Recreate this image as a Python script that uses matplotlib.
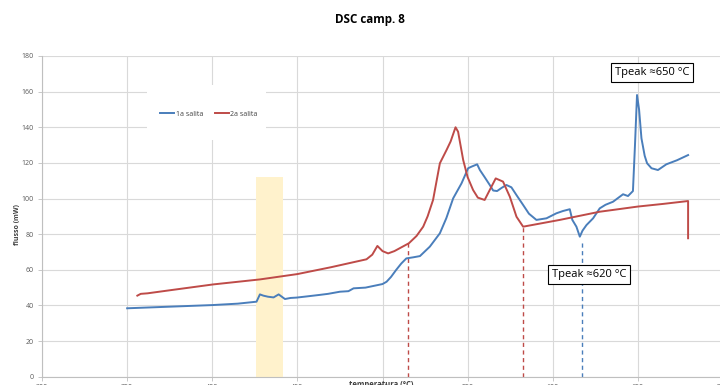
import matplotlib
matplotlib.use("Agg")
import matplotlib.pyplot as plt
from matplotlib.patches import Rectangle

# ---- data ----
blue_x = [350, 375, 400, 415, 426, 428, 430, 432.7, 436, 439, 442.7, 446, 449.5, 455, 463,
          468, 475, 480, 483, 490, 494.5, 500, 502.4, 505, 508, 511, 514, 518, 522, 527.8,
          533.7, 537.5, 541.5, 546.4, 550.3, 552.3, 555.6, 557.2, 560, 563, 565, 567.3, 570,
          572.8, 575.7, 579, 582.6, 586, 590.4, 596.3, 602.1, 606, 610, 611.5, 613.9, 615.9,
          617.5, 619.8, 623.7, 627.6, 631, 635.4, 641.3, 644.2, 647.1, 648.3, 649.5, 650.7,
          652.1, 654, 655.4, 658, 661.8, 666.7, 673, 679.5]
blue_y = [38.4, 39.3, 40.2, 41, 42.1, 46.2, 45.5, 44.9, 44.5, 46.2, 43.6, 44.2, 44.4, 45, 45.9,
          46.5, 47.7, 48, 49.6, 50, 50.9, 52, 53.3, 56, 59.9, 63.5, 66.4, 67, 67.7, 73,
          80.5, 89, 100.1, 108.5, 117, 117.9, 119.2, 116, 112, 107.6, 104.5, 104.2, 106,
          107.6, 106.3, 101.5, 96.4, 91.5, 88, 88.9, 91.7, 93, 94, 88, 84.2, 78.6,
          82, 85.1, 88.9, 94.5, 96.5, 98.2, 102.4, 101.4, 104.2, 130, 158.1, 150,
          133.8, 124, 119.8, 117, 116, 119.2, 121.5, 124.4]

red_x = [356, 358, 362, 375, 400.6, 428, 450, 470, 490.6, 494, 497, 500, 503.3, 507, 515.5,
         520, 523.9, 526.5, 529.7, 533.7, 537.6, 540, 542.9, 544.4, 547.4, 550, 553.2, 556,
         560, 563, 566.5, 570.8, 574.8, 578.7, 582.6, 604.1, 627.6, 635.4, 650, 665, 679.5, 679.5]
red_y = [45.5, 46.5, 46.8, 48.5, 51.8, 54.6, 57.6, 61.5, 65.9, 68.5, 73.4, 70.5, 69.2, 70.5, 74.9,
         79, 84.2, 90, 99.2, 119.8, 127.2, 132, 140, 137.5, 121.6, 112, 104.8, 100.5,
         99.2, 104.8, 111.3, 109.5, 101, 89.8, 84.2, 88, 92.6, 93.6, 95.5, 97, 98.6, 77.7]

series_labels = ["1a salita", "2a salita"]

band_x = [425.6, 441.5]
band_top = 112

red_marks_x = [515.2, 582.6]
red_marks_top = [75, 84.2]
blue_marks_x = [616.9]
blue_marks_top = [77]

x_ticks = [300, 350, 400, 450, 500, 550, 600, 650, 700]
y_ticks = [0, 20, 40, 60, 80, 100, 120, 140, 160, 180]

annotations = ["Tpeak \u2248650 \u00b0C", "Tpeak \u2248620 \u00b0C"]
annot_pos = [(636.5, 170.7), (599.5, 57.4)]

title = "DSC camp. 8"
xlabel = "temperatura (\u00b0C)"
ylabel = "flusso (mW)"

BLUE = "#4A7EBB"
RED = "#BE4B48"

plt.rcParams['font.family'] = ['Open Sans', 'DejaVu Sans']

fig = plt.figure(figsize=(7.2, 3.85), dpi=100)
ax = fig.add_axes([42/720, 1 - 376.7/385, (723 - 42)/720, (376.7 - 56)/385])

ax.fill_between(band_x, 0, band_top, color="#FFF2CC", zorder=1, linewidth=0)

ax.plot(blue_x, blue_y, color=BLUE, lw=1.4, label=series_labels[0], zorder=3)
ax.plot(red_x, red_y, color=RED, lw=1.4, label=series_labels[1], zorder=3)

for xv, top in zip(red_marks_x, red_marks_top):
    ax.plot([xv, xv], [0, top], color=RED, lw=1.0, ls=(0, (3, 2.5)), zorder=2)
for xv, top in zip(blue_marks_x, blue_marks_top):
    ax.plot([xv, xv], [0, top], color=BLUE, lw=1.0, ls=(0, (3, 2.5)), zorder=2)

ax.set_xlim(300, 700)
ax.set_ylim(0, 180)
ax.set_xticks(x_ticks)
ax.set_yticks(y_ticks)
ax.grid(True, color="#D9D9D9", lw=0.8, zorder=0)
ax.set_axisbelow(True)
for s in ["top", "right"]:
    ax.spines[s].set_visible(False)
for s in ["left", "bottom"]:
    ax.spines[s].set_color("#BFBFBF")
    ax.spines[s].set_linewidth(0.8)
ax.tick_params(axis='both', length=3, width=0.6, color="#BFBFBF", labelsize=5, labelcolor="#595959")
ax.tick_params(axis='x', pad=2)
ax.tick_params(axis='y', pad=3)

# white legend area (covers grid like the reference)
ax.add_patch(Rectangle((0.1542, 0.7375), 0.1747, 0.172, transform=ax.transAxes,
                       facecolor='white', edgecolor='none', zorder=1.5))
leg = ax.legend(loc='center left', bbox_to_anchor=((160 - 42)/681, (376.7 - 114)/320.7),
                ncol=2, fontsize=5, frameon=False, handlelength=2.0, columnspacing=1.7,
                borderpad=0, handletextpad=0.25, borderaxespad=0)
for t in leg.get_texts():
    t.set_color("#404040")

for txt, (xa, ya) in zip(annotations, annot_pos):
    ax.text(xa, ya, txt, fontsize=8, va='center', ha='left', color="black",
            bbox=dict(boxstyle='square,pad=0.35', fc='white', ec='black', lw=0.8), zorder=5)

fig.text(369.5/720, 1 - 20/385, title, ha='center', va='center', fontsize=8.4, fontweight='bold')
fig.text(18/720, 1 - 225/385, ylabel, rotation=90, ha='center', va='center', fontsize=5,
         fontweight='bold', color="#404040")
fig.text(381/720, 1 - 380/385, xlabel, ha='center', va='top', fontsize=5.5,
         fontweight='bold', color="#404040")

fig.savefig("out.png", dpi=100)
